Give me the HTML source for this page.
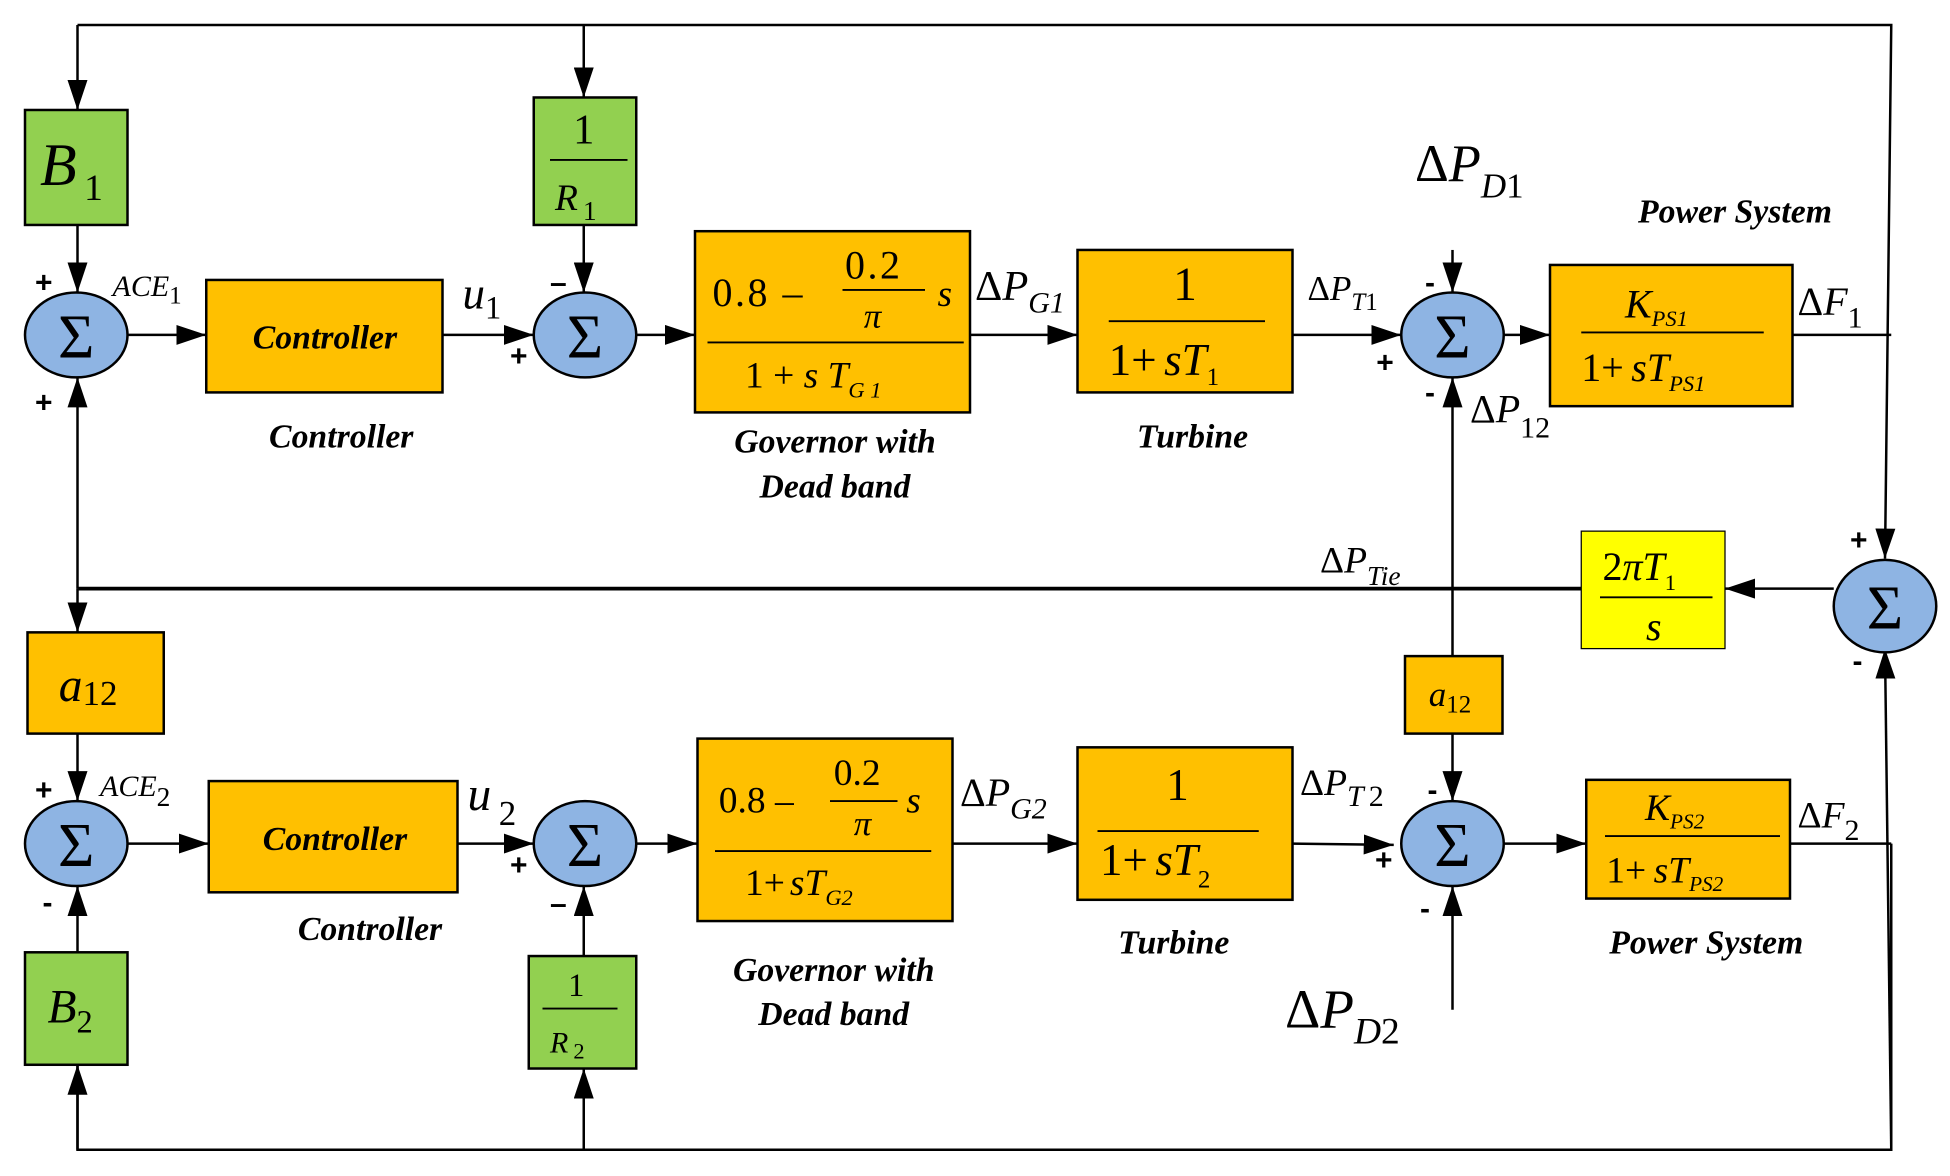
<!DOCTYPE html>
<html><head><meta charset="utf-8"><style>
html,body{margin:0;padding:0;background:#fff;}
svg{display:block;}
text{font-family:"Liberation Serif",serif;fill:#000;}
.it{font-style:italic;}
.n{font-style:normal;}
.lab{font-style:italic;font-weight:bold;font-size:27px;}
.sg{font-weight:bold;font-size:24px;font-family:"Liberation Sans",sans-serif;}
</style></head><body>
<svg width="1950" height="1176" viewBox="0 0 1560 941" preserveAspectRatio="none" xmlns="http://www.w3.org/2000/svg">
<defs>
<marker id="a" markerWidth="24" markerHeight="16" refX="24" refY="8" orient="auto" markerUnits="userSpaceOnUse"><path d="M0,0 L24,8 L0,16 z" fill="#000"/></marker>
</defs>
<g stroke="#000" stroke-width="2" fill="none">
<polyline points="62,20 1513,20 1508,447" marker-end="url(#a)"/>
<line x1="62" y1="20" x2="62" y2="88" marker-end="url(#a)"/>
<line x1="467" y1="20" x2="467" y2="78" marker-end="url(#a)"/>
<line x1="62" y1="180" x2="62" y2="234" marker-end="url(#a)"/>
<line x1="467" y1="180" x2="467" y2="234" marker-end="url(#a)"/>
<line x1="102" y1="268" x2="165" y2="268" marker-end="url(#a)"/>
<line x1="354" y1="268" x2="427" y2="268" marker-end="url(#a)"/>
<line x1="509" y1="268" x2="556" y2="268" marker-end="url(#a)"/>
<line x1="776" y1="268" x2="862" y2="268" marker-end="url(#a)"/>
<line x1="1034" y1="268" x2="1121" y2="268" marker-end="url(#a)"/>
<line x1="1203" y1="268" x2="1240" y2="268" marker-end="url(#a)"/>
<line x1="1434" y1="268" x2="1513" y2="268"/>
<line x1="1162" y1="200" x2="1162" y2="234" marker-end="url(#a)"/>
<line x1="1162" y1="525" x2="1162" y2="302" marker-end="url(#a)"/>
<line x1="1467" y1="471" x2="1380" y2="471" marker-end="url(#a)"/>
<line x1="1265" y1="471" x2="62" y2="471" stroke-width="3"/>
<line x1="62" y1="471" x2="62" y2="302" marker-end="url(#a)"/>
<line x1="62" y1="471" x2="62" y2="506" marker-end="url(#a)"/>
<line x1="62" y1="587" x2="62" y2="641" marker-end="url(#a)"/>
<line x1="1162" y1="587" x2="1162" y2="641" marker-end="url(#a)"/>
<line x1="102" y1="675" x2="167" y2="675" marker-end="url(#a)"/>
<line x1="366" y1="675" x2="427" y2="675" marker-end="url(#a)"/>
<line x1="509" y1="675" x2="558" y2="675" marker-end="url(#a)"/>
<line x1="762" y1="675" x2="862" y2="675" marker-end="url(#a)"/>
<line x1="1034" y1="675" x2="1115" y2="676" marker-end="url(#a)"/>
<line x1="1203" y1="675" x2="1269" y2="675" marker-end="url(#a)"/>
<line x1="1432" y1="675" x2="1513" y2="675"/>
<line x1="1162" y1="808" x2="1162" y2="709" marker-end="url(#a)"/>
<line x1="62" y1="762" x2="62" y2="709" marker-end="url(#a)"/>
<line x1="467" y1="765" x2="467" y2="709" marker-end="url(#a)"/>
<polyline points="1513,675 1513,920 62,920 62,852" />
<line x1="62" y1="920" x2="62" y2="852" marker-end="url(#a)"/>
<line x1="467" y1="920" x2="467" y2="855" marker-end="url(#a)"/>
<line x1="1513" y1="920" x2="1508" y2="519" marker-end="url(#a)"/>
</g>
<g stroke="#000" stroke-width="2">
<rect x="20" y="88" width="82" height="92" fill="#92D050"/>
<rect x="427" y="78" width="82" height="102" fill="#92D050"/>
<rect x="165" y="224" width="189" height="90" fill="#FFC000"/>
<rect x="556" y="185" width="220" height="145" fill="#FFC000"/>
<rect x="862" y="200" width="172" height="114" fill="#FFC000"/>
<rect x="1240" y="212" width="194" height="113" fill="#FFC000"/>
<rect x="1265" y="425" width="115" height="94" fill="#FFFF00" stroke-width="1"/>
<rect x="22" y="506" width="109" height="81" fill="#FFC000"/>
<rect x="1124" y="525" width="78" height="62" fill="#FFC000"/>
<rect x="167" y="625" width="199" height="89" fill="#FFC000"/>
<rect x="558" y="591" width="204" height="146" fill="#FFC000"/>
<rect x="862" y="598" width="172" height="122" fill="#FFC000"/>
<rect x="1269" y="624" width="163" height="95" fill="#FFC000"/>
<rect x="20" y="762" width="82" height="90" fill="#92D050"/>
<rect x="423" y="765" width="86" height="90" fill="#92D050"/>
</g>
<g stroke="#000" stroke-width="2" fill="#8EB4E3">
<ellipse cx="61" cy="268" rx="41" ry="34"/>
<ellipse cx="468" cy="268" rx="41" ry="34"/>
<ellipse cx="1162" cy="268" rx="41" ry="34"/>
<ellipse cx="1508" cy="485" rx="41" ry="37"/>
<ellipse cx="61" cy="675" rx="41" ry="34"/>
<ellipse cx="468" cy="675" rx="41" ry="34"/>
<ellipse cx="1162" cy="675" rx="41" ry="34"/>
</g>
<g font-size="50" text-anchor="middle">
<text x="61" y="286">Σ</text><text x="468" y="286">Σ</text><text x="1162" y="286">Σ</text>
<text x="1508" y="503">Σ</text><text x="61" y="693">Σ</text><text x="468" y="693">Σ</text><text x="1162" y="693">Σ</text>
</g>
<g stroke="#000" stroke-width="1.5">
<line x1="440" y1="128" x2="502" y2="128"/>
<line x1="566" y1="274" x2="771" y2="274"/>
<line x1="674" y1="232" x2="740" y2="232"/>
<line x1="887" y1="257" x2="1012" y2="257"/>
<line x1="1265" y1="266" x2="1411" y2="266"/>
<line x1="1280" y1="478" x2="1370" y2="478"/>
<line x1="572" y1="681" x2="745" y2="681"/>
<line x1="664" y1="641" x2="718" y2="641"/>
<line x1="878" y1="665" x2="1007" y2="665"/>
<line x1="1284" y1="669" x2="1424" y2="669"/>
<line x1="434" y1="807" x2="494" y2="807"/>
</g>
<text class="it" x="32" y="148" font-size="48">B<tspan class="n" font-size="30" dx="6" dy="12">1</tspan></text>
<text x="467" y="115" font-size="34" text-anchor="middle">1</text>
<text class="it" x="444" y="168" font-size="30">R<tspan class="n" font-size="22" dx="4" dy="8">1</tspan></text>
<text class="lab" x="260" y="279" text-anchor="middle">Controller</text>
<text x="570" y="245" font-size="32" letter-spacing="2">0.8 –</text>
<text x="676" y="223" font-size="32" letter-spacing="2">0.2</text>
<text class="it" x="750" y="245" font-size="30">s</text>
<text class="it" x="698" y="262" font-size="28" text-anchor="middle">π</text>
<text x="596" y="310" font-size="30">1 + <tspan class="it">s T</tspan><tspan class="it" font-size="18" dy="8">G 1</tspan></text>
<text x="948" y="240" font-size="38" text-anchor="middle">1</text>
<text x="887" y="300" font-size="36">1+<tspan class="it" dx="6">sT</tspan><tspan font-size="20" dy="8">1</tspan></text>
<text class="it" x="1300" y="254" font-size="32">K<tspan font-size="18" dy="7">PS1</tspan></text>
<text x="1265" y="305" font-size="32">1+<tspan class="it" dx="6">sT</tspan><tspan class="it" font-size="18" dy="8">PS1</tspan></text>
<text x="1282" y="464" font-size="32">2<tspan class="it">πT</tspan><tspan font-size="18" dy="8">1</tspan></text>
<text class="it" x="1323" y="512" font-size="32" text-anchor="middle">s</text>
<text class="it" x="47" y="561" font-size="38">a<tspan class="n" font-size="28" dy="3">12</tspan></text>
<text class="it" x="1143" y="565" font-size="28">a<tspan class="n" font-size="20" dy="5">12</tspan></text>
<text class="lab" x="268" y="680" text-anchor="middle">Controller</text>
<text x="575" y="650" font-size="30">0.8 –</text>
<text x="667" y="628" font-size="30">0.2</text>
<text class="it" x="725" y="650" font-size="30">s</text>
<text class="it" x="690" y="668" font-size="28" text-anchor="middle">π</text>
<text x="596" y="716" font-size="30">1+<tspan class="it" dx="4">sT</tspan><tspan class="it" font-size="18" dy="8">G2</tspan></text>
<text x="942" y="640" font-size="36" text-anchor="middle">1</text>
<text x="880" y="700" font-size="36">1+<tspan class="it" dx="6">sT</tspan><tspan font-size="20" dy="10">2</tspan></text>
<text class="it" x="1316" y="656" font-size="30">K<tspan font-size="17" dy="7">PS2</tspan></text>
<text x="1285" y="706" font-size="30">1+<tspan class="it" dx="6">sT</tspan><tspan class="it" font-size="17" dy="7">PS2</tspan></text>
<text class="it" x="38" y="818" font-size="38">B<tspan class="n" font-size="26" dy="8">2</tspan></text>
<text x="461" y="797" font-size="26" text-anchor="middle">1</text>
<text class="it" x="440" y="842" font-size="24">R<tspan class="n" font-size="18" dx="4" dy="5">2</tspan></text>
<text class="lab" x="273" y="358" text-anchor="middle">Controller</text>
<text class="lab" x="668" y="362" text-anchor="middle">Governor with</text>
<text class="lab" x="668" y="398" text-anchor="middle">Dead band</text>
<text class="lab" x="954" y="358" text-anchor="middle">Turbine</text>
<text class="lab" x="1388" y="178" text-anchor="middle">Power System</text>
<text class="lab" x="296" y="752" text-anchor="middle">Controller</text>
<text class="lab" x="667" y="785" text-anchor="middle">Governor with</text>
<text class="lab" x="667" y="820" text-anchor="middle">Dead band</text>
<text class="lab" x="939" y="763" text-anchor="middle">Turbine</text>
<text class="lab" x="1365" y="763" text-anchor="middle">Power System</text>
<text class="it" x="90" y="237" font-size="24">ACE<tspan class="n" font-size="20" dy="6">1</tspan></text>
<text class="it" x="370" y="247" font-size="36">u<tspan class="n" font-size="26" dy="8">1</tspan></text>
<text x="780" y="240" font-size="34">Δ<tspan class="it">P</tspan><tspan class="it" font-size="24" dy="10">G1</tspan></text>
<text x="1046" y="240" font-size="28">Δ<tspan class="it">P</tspan><tspan class="it" font-size="20" dy="8">T</tspan><tspan font-size="20">1</tspan></text>
<text x="1132" y="145" font-size="42">Δ<tspan class="it">P</tspan><tspan class="it" font-size="28" dy="13">D</tspan><tspan font-size="28">1</tspan></text>
<text x="1438" y="252" font-size="32">Δ<tspan class="it">F</tspan><tspan font-size="24" dy="10">1</tspan></text>
<text x="1176" y="338" font-size="32">Δ<tspan class="it">P</tspan><tspan font-size="24" dy="12">12</tspan></text>
<text x="1056" y="458" font-size="30">Δ<tspan class="it">P</tspan><tspan class="it" font-size="22" dy="10">Tie</tspan></text>
<text class="it" x="80" y="637" font-size="24">ACE<tspan class="n" font-size="22" dy="8">2</tspan></text>
<text class="it" x="374" y="648" font-size="38">u<tspan class="n" font-size="28" dx="6" dy="12">2</tspan></text>
<text x="768" y="645" font-size="32">Δ<tspan class="it">P</tspan><tspan class="it" font-size="24" dy="10">G2</tspan></text>
<text x="1040" y="636" font-size="30">Δ<tspan class="it">P</tspan><tspan class="it" font-size="24" dy="9">T</tspan><tspan font-size="24" dx="4">2</tspan></text>
<text x="1028" y="822" font-size="44">Δ<tspan class="it">P</tspan><tspan class="it" font-size="30" dy="13">D</tspan><tspan font-size="30">2</tspan></text>
<text x="1438" y="662" font-size="30">Δ<tspan class="it">F</tspan><tspan font-size="24" dy="10">2</tspan></text>
<text class="sg" x="28" y="234">+</text>
<text class="sg" x="28" y="330">+</text>
<text class="sg" x="440" y="234">–</text>
<text class="sg" x="408" y="293">+</text>
<text class="sg" x="1140" y="234">-</text>
<text class="sg" x="1101" y="298">+</text>
<text class="sg" x="1140" y="322">-</text>
<text class="sg" x="1480" y="440">+</text>
<text class="sg" x="1482" y="537">-</text>
<text class="sg" x="28" y="640">+</text>
<text class="sg" x="34" y="730">-</text>
<text class="sg" x="408" y="700">+</text>
<text class="sg" x="440" y="731">–</text>
<text class="sg" x="1142" y="640">-</text>
<text class="sg" x="1100" y="696">+</text>
<text class="sg" x="1136" y="735">-</text>
</svg>
</body></html>
